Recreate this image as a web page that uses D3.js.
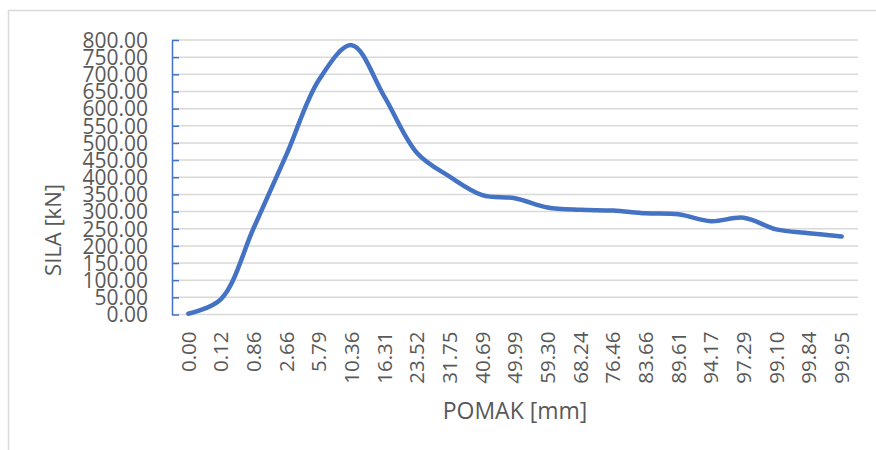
<!DOCTYPE html>
<html>
<head>
<meta charset="utf-8">
<script src="https://cdn.jsdelivr.net/npm/d3@7"></script>
<style>
  html, body { margin: 0; padding: 0; background: #fff; }
  svg { display: block; }
  text { font-family: "Open Sans", "Noto Sans", sans-serif; fill: #595959; }
</style>
</head>
<body>
<svg id="chart" width="876" height="450"></svg>
<script>
// ---- data ----
const categories = ["0.00","0.12","0.86","2.66","5.79","10.36","16.31","23.52","31.75","40.69","49.99","59.30","68.24","76.46","83.66","89.61","94.17","97.29","99.10","99.84","99.95"];
const forceValues = [2, 45, 252, 465, 684, 785, 635, 471, 402, 348, 339, 312, 305, 303, 295, 292, 272, 282, 248, 237, 227];
const yTicks = [0,50,100,150,200,250,300,350,400,450,500,550,600,650,700,750,800];
const xTitle = "POMAK [mm]";
const yTitle = "SILA [kN]";

const svg = d3.select("#chart");

// chart frame (only top and left edges visible)
svg.append("rect")
  .attr("x", 8.5).attr("y", 10.5)
  .attr("width", 900).attr("height", 500)
  .attr("fill", "none").attr("stroke", "#d9d9d9").attr("stroke-width", 1.5);

const plot = { left: 172, right: 858, top: 40, bottom: 314.5 };

const x = d3.scaleBand().domain(categories).range([plot.left, plot.right]);
const y = d3.scaleLinear().domain([0, 800]).range([plot.bottom, plot.top]);

// gridlines
svg.append("g").selectAll("line").data(yTicks).join("line")
  .attr("x1", plot.left).attr("x2", plot.right)
  .attr("y1", d => y(d)).attr("y2", d => y(d))
  .attr("stroke", "#d9d9d9").attr("stroke-width", 1.5);

// y axis (blue line with inner ticks)
const yAxis = svg.append("g")
  .attr("transform", `translate(${plot.left},0)`)
  .call(d3.axisLeft(y).tickValues(yTicks).tickSize(0).tickPadding(24).tickFormat(d3.format(".2f")));
yAxis.select(".domain").attr("stroke", "#4472C4").attr("stroke-width", 1.5);
yAxis.selectAll(".tick text")
  .style("font-size", "21px").attr("fill", "#595959")
  .attr("dy", "0.35em");
yAxis.selectAll(".tick").append("line")
  .attr("x1", 0).attr("x2", 7)
  .attr("stroke", "#4472C4").attr("stroke-width", 1.5);

// x axis labels (rotated)
const xAxis = svg.append("g")
  .attr("transform", `translate(0,${plot.bottom})`)
  .call(d3.axisBottom(x).tickSize(0).tickPadding(0));
xAxis.select(".domain").remove();
xAxis.selectAll(".tick text")
  .style("font-size", "20.5px").attr("fill", "#595959")
  .attr("text-anchor", "end")
  .attr("transform", "rotate(-90)")
  .attr("x", -17).attr("y", 0).attr("dy", "0.35em");

// line
const line = d3.line()
  .x((d, i) => x(categories[i]) + x.bandwidth() / 2)
  .y(d => y(d))
  .curve(d3.curveCatmullRom.alpha(0.5));

svg.append("path")
  .datum(forceValues)
  .attr("d", line)
  .attr("fill", "none")
  .attr("stroke", "#4472C4")
  .attr("stroke-width", 4.5)
  .attr("stroke-linecap", "round")
  .attr("stroke-linejoin", "round");

// axis titles
svg.append("text")
  .attr("transform", `translate(53,230) rotate(-90)`)
  .attr("text-anchor", "middle").attr("dy", "0.35em")
  .style("font-size", "22px")
  .text(yTitle);

svg.append("text")
  .attr("x", 515).attr("y", 411)
  .attr("text-anchor", "middle").attr("dy", "0.35em")
  .style("font-size", "23px")
  .text(xTitle);
</script>
</body>
</html>
